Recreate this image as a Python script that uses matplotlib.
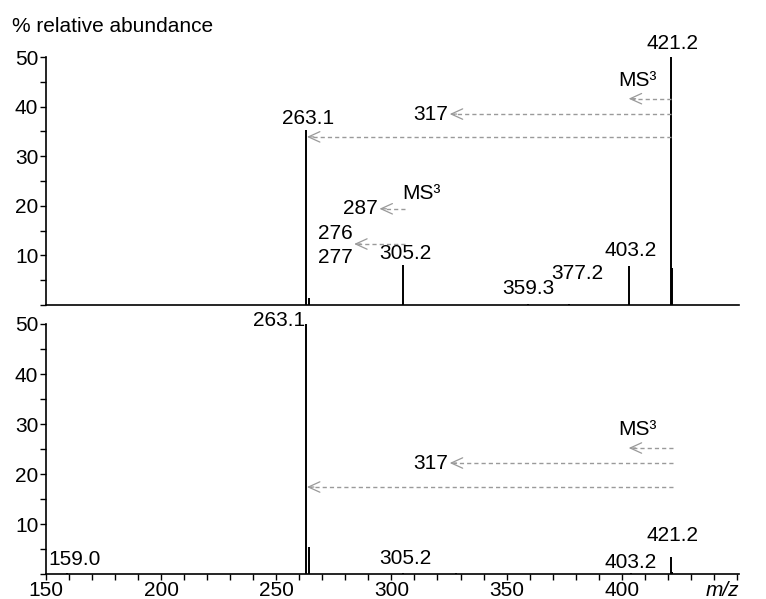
import matplotlib.pyplot as plt
from matplotlib.ticker import FixedLocator

plt.rcParams['font.family'] = ['Liberation Sans', 'DejaVu Sans']
plt.rcParams['font.size'] = 15

# Spectrum peaks (m/z, % relative abundance)
top_mz = [263.1, 264.0, 305.2, 359.3, 377.2, 403.2, 421.2, 421.8]
top_int = [35.3, 1.5, 8.0, 0.3, 0.3, 7.9, 50.0, 7.4]

bottom_mz = [159.0, 263.1, 264.0, 305.2, 328.0, 403.9, 421.2, 422.0]
bottom_int = [0.3, 50.0, 5.5, 0.3, 0.3, 0.3, 3.4, 0.4]

# Peak labels: (text, x, y, ha, va)
top_labels = [
    ('421.2', 422.0, 50.8, 'center', 'bottom'),
    ('263.1', 263.7, 35.7, 'center', 'bottom'),
    ('305.2', 306.1, 8.5, 'center', 'bottom'),
    ('403.2', 403.9, 9.1, 'center', 'bottom'),
    ('377.2', 380.7, 4.4, 'center', 'bottom'),
    ('359.3', 359.6, 1.4, 'center', 'bottom'),
]
bottom_labels = [
    ('263.1', 262.6, 50.6, 'right', 'center'),
    ('159.0', 150.9, 3.0, 'left', 'center'),
    ('305.2', 306.1, 3.2, 'center', 'center'),
    ('403.2', 403.7, 2.4, 'center', 'center'),
    ('421.2', 422.0, 7.8, 'center', 'center'),
]

# Neutral-loss arrows: (start x, tip x, y)
top_arrows = [
    (421.2, 403.0, 41.6),
    (421.2, 325.3, 38.5),
    (421.2, 263.3, 33.9),
    (305.8, 294.8, 19.4),
    (305.8, 283.8, 12.3),
]
bottom_arrows = [
    (422.2, 403.0, 25.2),
    (422.2, 325.3, 22.2),
    (422.2, 263.3, 17.4),
]

top_notes = [
    ('MS³', 407.0, 43.3, 'center', 'bottom'),
    ('317', 324.8, 38.5, 'right', 'center'),
    ('287', 294.0, 19.4, 'right', 'center'),
    ('MS³', 304.8, 20.5, 'left', 'bottom'),
    ('276', 283.0, 14.5, 'right', 'center'),
    ('277', 283.0, 9.5, 'right', 'center'),
]
bottom_notes = [
    ('MS³', 407.0, 27.0, 'center', 'bottom'),
    ('317', 324.8, 22.2, 'right', 'center'),
]

x_major = [150, 200, 250, 300, 350, 400]
x_minor = list(range(160, 460, 10))

gray = '#9a9a9a'

fig = plt.figure(figsize=(7.66, 5.99), dpi=100)
ax1 = fig.add_axes([0.060, 0.4908, 0.905, 0.4140])
ax2 = fig.add_axes([0.060, 0.0417, 0.905, 0.4174])


def draw_arrows(ax, arrows):
    for x0, x1, y in arrows:
        ax.plot([x0, x1 + 1.5], [y, y], color=gray, lw=1, ls=(0, (3, 2.2)))
        ax.annotate('', xy=(x1, y), xytext=(5, 0), textcoords='offset points',
                    arrowprops=dict(arrowstyle='->,head_length=0.55,head_width=0.25',
                                    color=gray, lw=0.9, shrinkA=0, shrinkB=0))


for ax, mz, inten in [(ax1, top_mz, top_int), (ax2, bottom_mz, bottom_int)]:
    ax.vlines(mz, 0, inten, color='black', lw=1.4, clip_on=False)
    ax.set_xlim(150, 451)
    ax.set_ylim(0, 50)
    ax.spines['top'].set_visible(False)
    ax.spines['right'].set_visible(False)
    ax.spines['left'].set_linewidth(1.2)
    ax.spines['bottom'].set_linewidth(1.2)
    ax.yaxis.set_major_locator(FixedLocator([10, 20, 30, 40, 50]))
    ax.yaxis.set_minor_locator(FixedLocator([0, 5, 15, 25, 35, 45]))
    ax.tick_params(axis='y', which='both', length=4.5, width=1, pad=1, labelsize=15)

ax1.tick_params(axis='x', which='both', bottom=False, labelbottom=False)
ax2.xaxis.set_major_locator(FixedLocator(x_major))
ax2.xaxis.set_minor_locator(FixedLocator(x_minor))
ax2.tick_params(axis='x', which='both', length=4, width=1, pad=1, labelsize=15)

draw_arrows(ax1, top_arrows)
draw_arrows(ax2, bottom_arrows)

for ax, labels in [(ax1, top_labels + top_notes), (ax2, bottom_labels + bottom_notes)]:
    for txt, x, y, ha, va in labels:
        ax.text(x, y, txt, ha=ha, va=va, fontsize=15, clip_on=False)

fig.text(12 / 766, 1 - 26 / 599, '% relative abundance', ha='left', va='center', fontsize=15)
fig.text(739 / 766, 1 - 591 / 599, 'm/z', ha='right', va='center', fontsize=15, style='italic')

fig.savefig('out.png', dpi=100)
